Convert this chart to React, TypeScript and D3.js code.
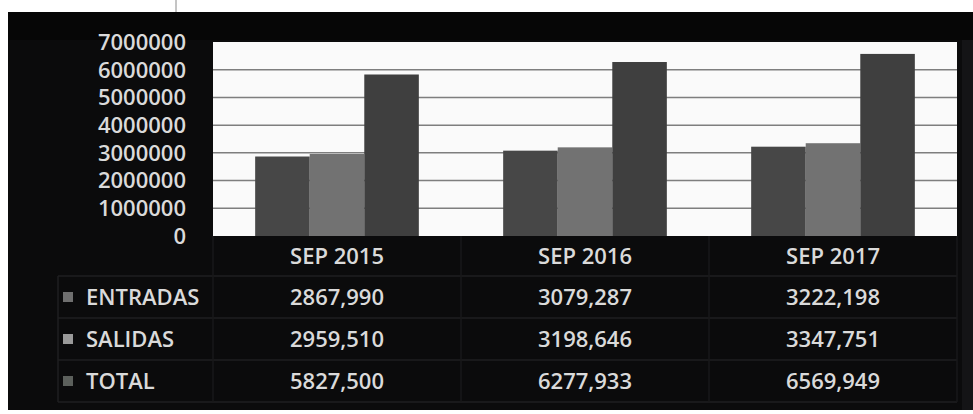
import React from "react";
import * as d3 from "d3";

const categories = ["SEP 2015", "SEP 2016", "SEP 2017"];
const seriesNames = ["ENTRADAS", "SALIDAS", "TOTAL"];
const entradas = [2867990, 3079287, 3222198];
const salidas = [2959510, 3198646, 3347751];
const total = [5827500, 6277933, 6569949];
const yTicks = [0, 1000000, 2000000, 3000000, 4000000, 5000000, 6000000, 7000000];

const seriesValues = [entradas, salidas, total];
const barColors = ["#474747", "#727272", "#3f3f3f"];
const keyColors = ["#6f6f6f", "#9a9a9a", "#5c605c"];

const W = 973;
const H = 414;
const plot = { left: 213, right: 957, top: 42, bottom: 236 };
const FONT = "'Open Sans', 'DejaVu Sans', sans-serif";
const TEXT = "#dadada";
const FS = 22;
const FW = 600;

function fmt(v: number) {
  const th = Math.floor(v / 1000);
  const rest = String(v % 1000).padStart(3, "0");
  return `${th},${rest}`;
}

export default function App() {
  const y = d3.scaleLinear().domain([0, 7000000]).range([plot.bottom, plot.top]);
  const x0 = d3
    .scaleBand<string>()
    .domain(categories)
    .range([plot.left, plot.right])
    .paddingInner(0.34)
    .paddingOuter(0.17);
  const x1 = d3.scaleBand<string>().domain(seriesNames).range([0, x0.bandwidth()]).padding(0);
  const step = x0.step();
  const bandStart = (c: string) => (x0(c) as number) - (step - x0.bandwidth()) / 2;

  const rowTop = [236, 276, 318, 360, 402];
  const tableLeft = 58;
  const gridCol = "#1f1f21";

  return (
    <div style={{ position: "absolute", left: 0, top: 0, width: W, height: H, background: "#fff" }}>
      <svg width={W} height={H} style={{ display: "block" }}>
        <rect x={0} y={0} width={W} height={H} fill="#ffffff" />
        <line x1={176} x2={176} y1={0} y2={12} stroke="#8a8a8a" strokeWidth={1} />
        <rect x={8} y={12} width={W - 8} height={398} fill="#0b0b0c" />
        <rect x={8} y={12} width={W - 8} height={28} fill="#060606" />
        <rect x={962} y={40} width={11} height={370} fill="#141416" />
        {/* plot area */}
        <rect x={plot.left} y={plot.top} width={plot.right - plot.left} height={plot.bottom - plot.top} fill="#fafafa" />
        {yTicks.slice(1, -1).map((t) => (
          <line key={t} x1={plot.left} x2={plot.right} y1={y(t)} y2={y(t)} stroke="#7e7e7e" strokeWidth={1.5} />
        ))}
        {/* bars */}
        {categories.map((c, ci) => (
          <g key={c} transform={`translate(${x0(c)},0)`}>
            {seriesNames.map((s, si) => (
              <rect
                key={s}
                x={x1(s)}
                y={y(seriesValues[si][ci])}
                width={x1.bandwidth()}
                height={plot.bottom - y(seriesValues[si][ci])}
                fill={barColors[si]}
              />
            ))}
          </g>
        ))}
        {/* y axis labels */}
        {yTicks.map((t) => (
          <text
            key={t}
            x={186}
            y={y(t)}
            dy="0.36em"
            textAnchor="end"
            fontFamily={FONT}
            fontSize={FS}
            fontWeight={FW}
            fill={TEXT}
          >
            {t}
          </text>
        ))}
        {/* data table grid */}
        {rowTop.slice(1).map((ry) => (
          <line key={ry} x1={tableLeft} x2={plot.right} y1={ry} y2={ry} stroke={gridCol} strokeWidth={1.5} />
        ))}
        <line x1={tableLeft} x2={tableLeft} y1={rowTop[1]} y2={rowTop[4]} stroke={gridCol} strokeWidth={1.5} />
        {categories.map((c) => (
          <line key={c} x1={bandStart(c)} x2={bandStart(c)} y1={rowTop[0]} y2={rowTop[4]} stroke="#18181a" strokeWidth={1.5} />
        ))}
        <line x1={plot.right} x2={plot.right} y1={rowTop[0]} y2={rowTop[4]} stroke="#18181a" strokeWidth={1.5} />
        {/* header */}
        {categories.map((c) => (
          <text
            key={c}
            x={(x0(c) as number) + x0.bandwidth() / 2}
            y={(rowTop[0] + rowTop[1]) / 2}
            dy="0.36em"
            textAnchor="middle"
            fontFamily={FONT}
            fontSize={FS}
            fontWeight={FW}
            fill={TEXT}
          >
            {c}
          </text>
        ))}
        {/* rows */}
        {seriesNames.map((s, si) => {
          const cy = (rowTop[si + 1] + rowTop[si + 2]) / 2;
          return (
            <g key={s}>
              <rect x={63} y={cy - 5} width={10} height={10} fill={keyColors[si]} />
              <text x={86} y={cy} dy="0.36em" fontFamily={FONT} fontSize={FS} fontWeight={FW} fill={TEXT}>
                {s}
              </text>
              {categories.map((c, ci) => (
                <text
                  key={c}
                  x={(x0(c) as number) + x0.bandwidth() / 2}
                  y={cy}
                  dy="0.36em"
                  textAnchor="middle"
                  fontFamily={FONT}
                  fontSize={FS}
                  fontWeight={FW}
                  fill={TEXT}
                >
                  {fmt(seriesValues[si][ci])}
                </text>
              ))}
            </g>
          );
        })}
      </svg>
    </div>
  );
}
